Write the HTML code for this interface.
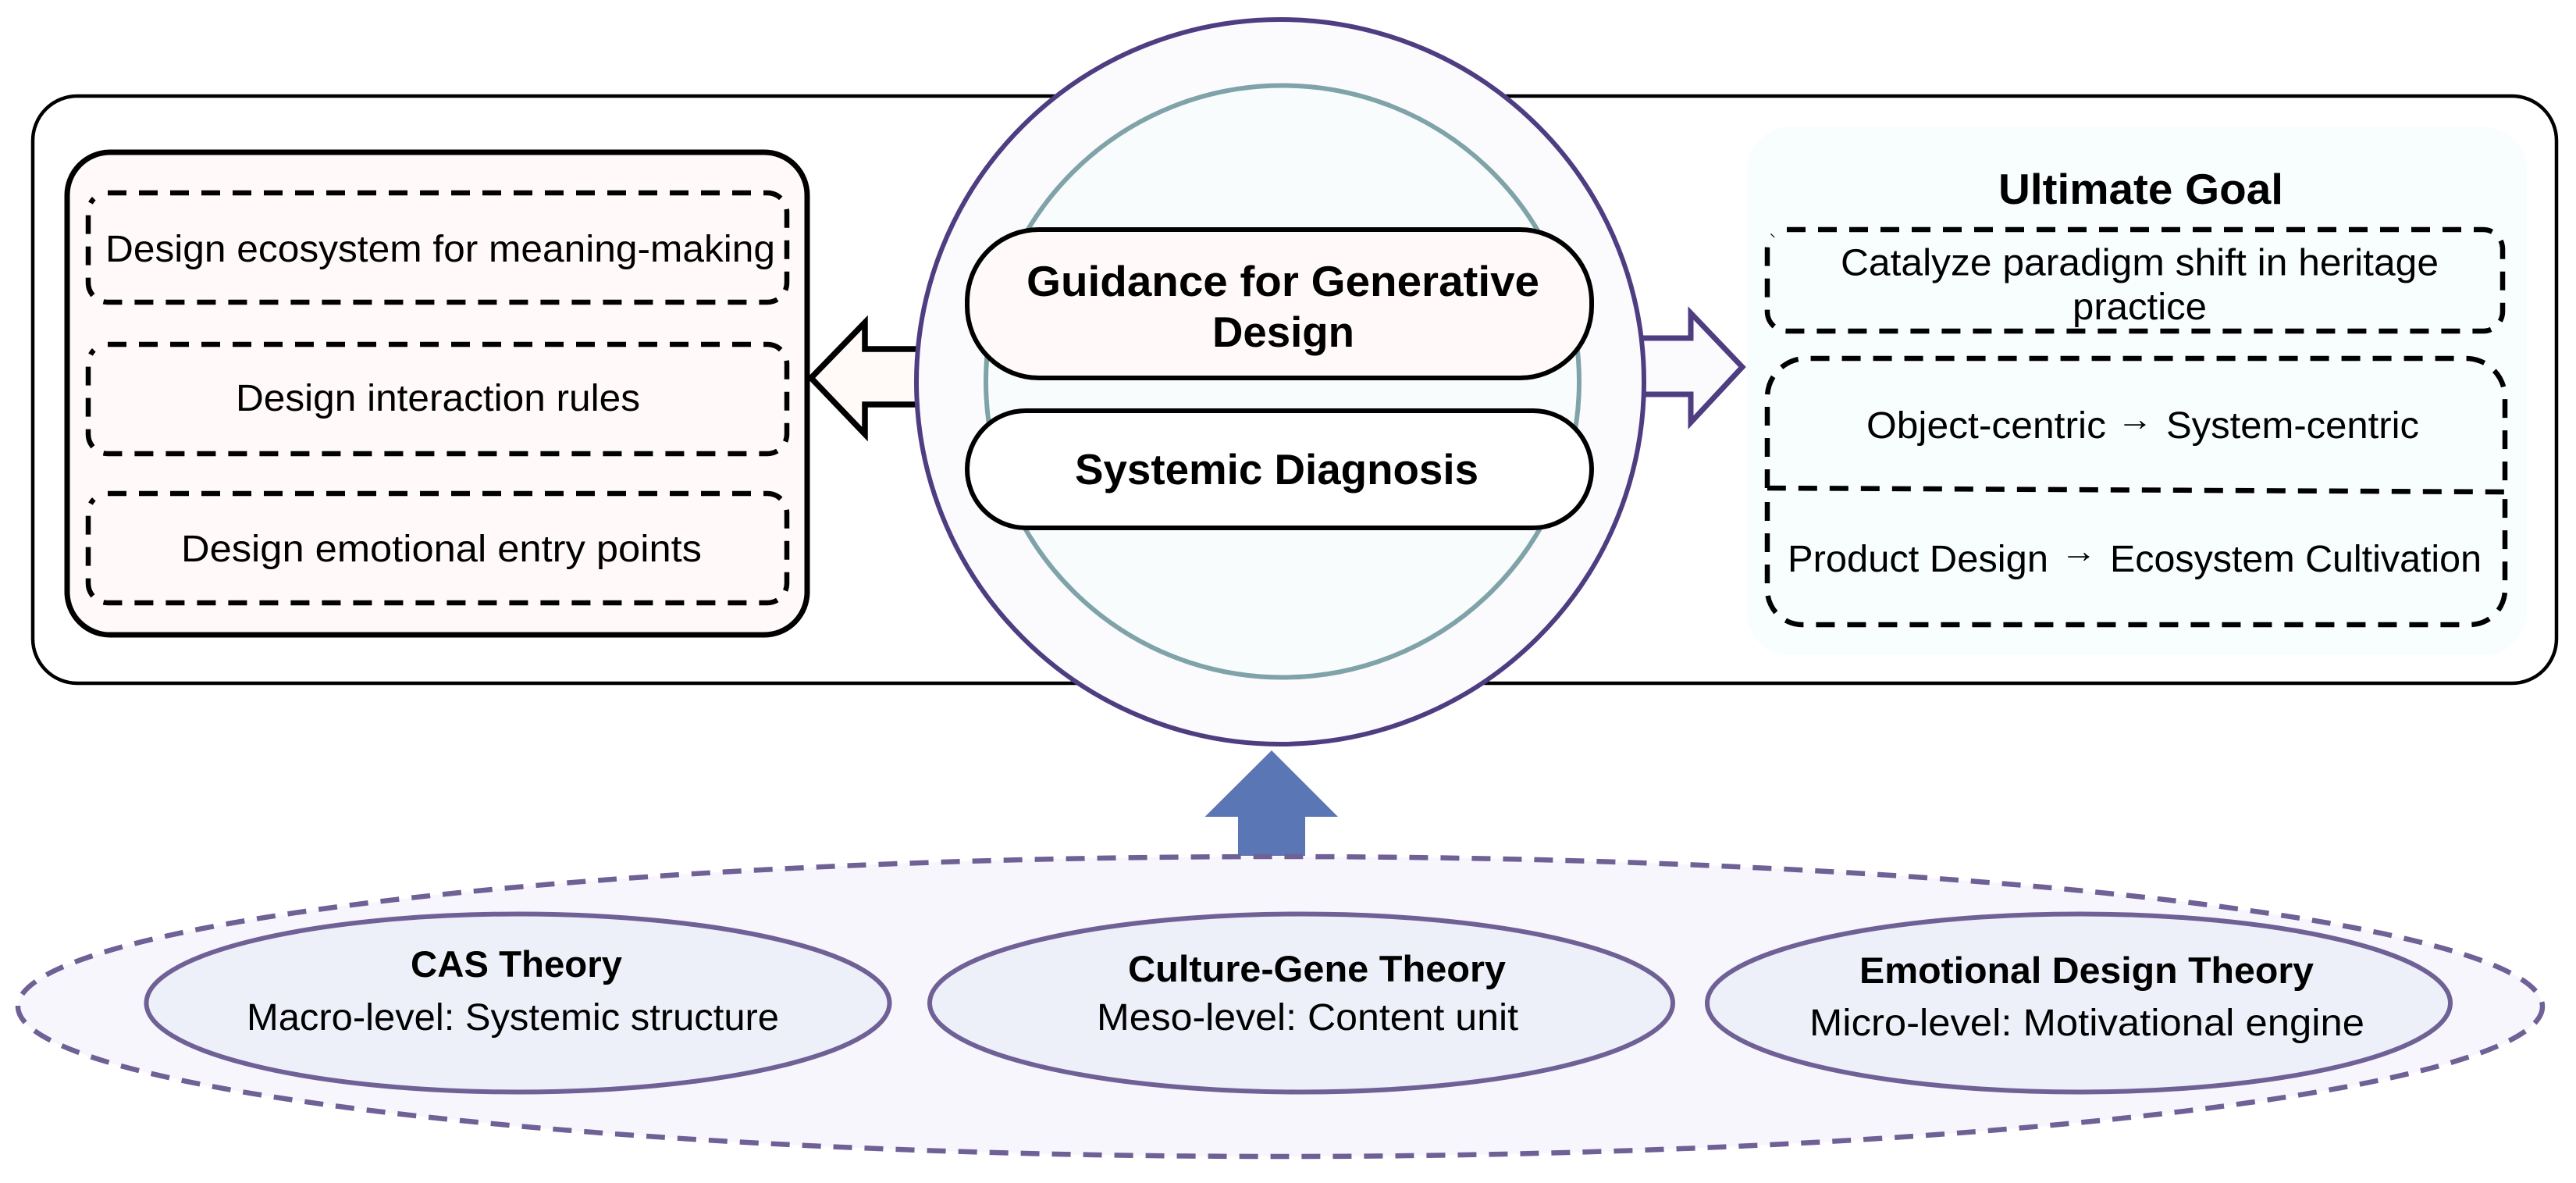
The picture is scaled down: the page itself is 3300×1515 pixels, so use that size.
<!DOCTYPE html>
<html><head><meta charset="utf-8"><style>
html,body{margin:0;padding:0;background:#fff}
svg{display:block}
text{font-family:"Liberation Sans","DejaVu Sans",sans-serif;fill:#000}
.r{font-size:48px}
.b{font-size:47px;font-weight:bold}
.h{font-size:55px;font-weight:bold}
.a{font-size:42px}
</style></head><body>
<svg width="3300" height="1515" viewBox="0 0 3300 1515" xmlns="http://www.w3.org/2000/svg">
<rect x="0" y="0" width="3300" height="1515" fill="#fff"/>
<rect x="42" y="123" width="3233" height="752" rx="57" ry="57" fill="#fff" stroke="#000" stroke-width="4.500"/>
<rect x="86" y="195" width="948" height="618" rx="55" ry="55" fill="#fff9f9" stroke="#000" stroke-width="7"/>
<g fill="none" stroke="#000" stroke-width="6.500" stroke-dasharray="24 16">
<path d="M138 247H983A25 25 0 0 1 1008 272V362A25 25 0 0 1 983 387H138A25 25 0 0 1 113 362V272A25 25 0 0 1 120.300 254.300"/>
<path transform="translate(0,194)" d="M138 247H983A25 25 0 0 1 1008 272V362A25 25 0 0 1 983 387H138A25 25 0 0 1 113 362V272A25 25 0 0 1 120.300 254.300"/>
<path transform="translate(0,385)" d="M138 247H983A25 25 0 0 1 1008 272V362A25 25 0 0 1 983 387H138A25 25 0 0 1 113 362V272A25 25 0 0 1 120.300 254.300"/>
</g>
<text class="r" x="135" y="335" textLength="858" lengthAdjust="spacingAndGlyphs">Design ecosystem for meaning-making</text>
<text class="r" x="302" y="526" textLength="518" lengthAdjust="spacingAndGlyphs">Design interaction rules</text>
<text class="r" x="232" y="719" textLength="667" lengthAdjust="spacingAndGlyphs">Design emotional entry points</text>
<rect x="2238" y="163" width="999" height="676" rx="55" ry="55" fill="#f8fdfd"/>
<text class="h" x="2560" y="261" textLength="365" lengthAdjust="spacingAndGlyphs">Ultimate Goal</text>
<g fill="none" stroke="#000" stroke-width="6.500" stroke-dasharray="24 16">
<path d="M2289 294H3181A25 25 0 0 1 3206 319V399A25 25 0 0 1 3181 424H2289A25 25 0 0 1 2264 399V319A25 25 0 0 1 2271.300 301.300"/>
<path d="M2264 625V509A50 50 0 0 1 2314 459H3159A50 50 0 0 1 3209 509V630L2264 625"/>
<path d="M2264 643V755A45 45 0 0 0 2309 800H3164A45 45 0 0 0 3209 755V634"/>
</g>
<text class="r" x="2358" y="352.500" textLength="766" lengthAdjust="spacingAndGlyphs">Catalyze paradigm shift in heritage</text>
<text class="r" x="2655" y="409" textLength="172" lengthAdjust="spacingAndGlyphs">practice</text>
<text class="r" x="2391" y="561" textLength="307" lengthAdjust="spacingAndGlyphs">Object-centric</text>
<text class="a" x="2712" y="551" textLength="46" lengthAdjust="spacingAndGlyphs">→</text>
<text class="r" x="2775" y="561" textLength="324" lengthAdjust="spacingAndGlyphs">System-centric</text>
<text class="r" x="2290" y="732" textLength="334" lengthAdjust="spacingAndGlyphs">Product Design</text>
<text class="a" x="2640" y="720" textLength="46" lengthAdjust="spacingAndGlyphs">→</text>
<text class="r" x="2703" y="732" textLength="476" lengthAdjust="spacingAndGlyphs">Ecosystem Cultivation</text>
<polygon points="1039,484 1108,413 1108,447 1240,447 1240,518 1108,518 1108,556" fill="#fff9f8" stroke="#000" stroke-width="7.500"/>
<polygon points="2232,470 2166,401 2166,433 2040,433 2040,505 2166,505 2166,541" fill="#fbfbfe" stroke="#4f3d82" stroke-width="7"/>
<ellipse cx="1640" cy="489" rx="466" ry="464" fill="#fbfbfe" stroke="#4f3d82" stroke-width="6"/>
<ellipse cx="1643" cy="488.500" rx="380" ry="379" fill="#f8fcfc" stroke="#7fa3a8" stroke-width="6"/>
<rect x="1239" y="294" width="800" height="190" rx="92" ry="92" fill="#fff9f9" stroke="#000" stroke-width="6"/>
<rect x="1239" y="526" width="800" height="150" rx="75" ry="75" fill="#fff" stroke="#000" stroke-width="6"/>
<text class="h" x="1315" y="379" textLength="657" lengthAdjust="spacingAndGlyphs">Guidance for Generative</text>
<text class="h" x="1553" y="444" textLength="182" lengthAdjust="spacingAndGlyphs">Design</text>
<text class="h" x="1377" y="620" textLength="517" lengthAdjust="spacingAndGlyphs">Systemic Diagnosis</text>
<polygon points="1629,961 1714,1046 1672,1046 1672,1096 1586,1096 1586,1046 1543.500,1046" fill="#5b76b5"/>
<ellipse cx="1640" cy="1289" rx="1617" ry="192" fill="#f6f6fc" stroke="#6f6096" stroke-width="6.500" stroke-dasharray="24 16"/>
<g fill="#edf0f9" stroke="#6f6096" stroke-width="6">
<ellipse cx="663.500" cy="1284.500" rx="476" ry="114"/>
<ellipse cx="1667" cy="1284.500" rx="476" ry="114"/>
<ellipse cx="2663" cy="1284.500" rx="476" ry="114"/>
</g>
<text class="b" x="526" y="1251" textLength="271" lengthAdjust="spacingAndGlyphs">CAS Theory</text>
<text class="r" x="316" y="1319" textLength="682" lengthAdjust="spacingAndGlyphs">Macro-level: Systemic structure</text>
<text class="b" x="1445" y="1257" textLength="484" lengthAdjust="spacingAndGlyphs">Culture-Gene Theory</text>
<text class="r" x="1405" y="1319" textLength="540" lengthAdjust="spacingAndGlyphs">Meso-level: Content unit</text>
<text class="b" x="2382" y="1259" textLength="582" lengthAdjust="spacingAndGlyphs">Emotional Design Theory</text>
<text class="r" x="2318" y="1326" textLength="711" lengthAdjust="spacingAndGlyphs">Micro-level: Motivational engine</text>
</svg>
</body></html>
